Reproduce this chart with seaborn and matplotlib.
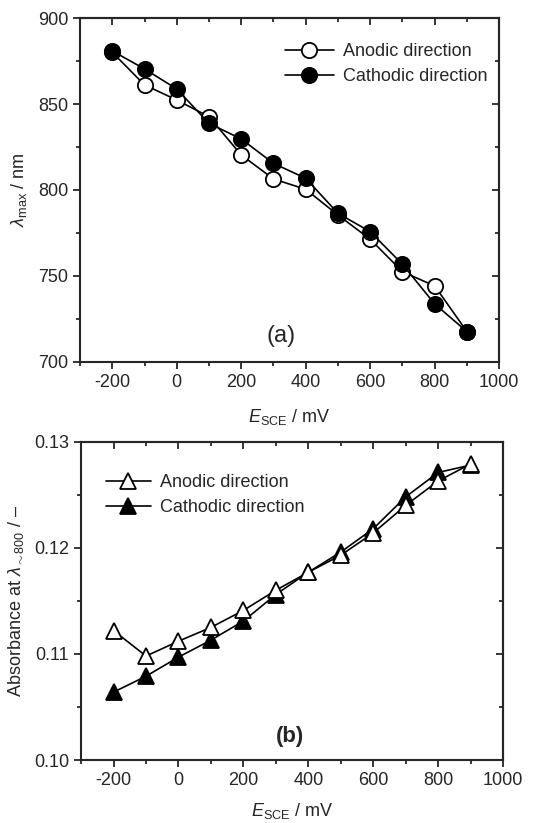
import matplotlib
matplotlib.use("Agg")
import matplotlib.pyplot as plt
from matplotlib.ticker import MultipleLocator, FormatStrFormatter
import seaborn as sns
import pandas as pd

# Potential steps (mV vs SCE)
potential = [-200, -100, 0, 100, 200, 300, 400, 500, 600, 700, 800, 900]

# (a) wavelength of maximum absorption, nm
lmax_anodic = [880.2, 861.2, 852.4, 842.7, 820.4, 806.4, 800.4, 785.4, 771.3, 752.4, 744.1, 717.5]
lmax_cathodic = [881.0, 870.5, 858.8, 838.8, 829.7, 815.5, 806.8, 786.4, 775.7, 756.7, 733.6, 717.5]

# (b) absorbance near 800 nm
abs_anodic = [0.1122, 0.1098, 0.1112, 0.1125, 0.1141, 0.1160, 0.1177, 0.1193, 0.1214, 0.1240, 0.1263, 0.1279]
abs_cathodic = [0.1064, 0.1079, 0.1097, 0.1113, 0.1131, 0.1156, 0.1177, 0.1196, 0.1218, 0.1248, 0.1271, 0.1278]

series_labels = ["Anodic direction", "Cathodic direction"]

sns.set_style("ticks")
plt.rcParams["font.family"] = ["Liberation Sans", "DejaVu Sans"]
plt.rcParams["mathtext.fontset"] = "custom"
plt.rcParams["mathtext.rm"] = "Liberation Sans"
plt.rcParams["mathtext.it"] = "Liberation Sans:italic"
plt.rcParams["mathtext.bf"] = "Liberation Sans:bold"
plt.rcParams["axes.linewidth"] = 1.5
plt.rcParams["axes.unicode_minus"] = False

fig = plt.figure(figsize=(5.48, 8.23), dpi=100)
ax1 = fig.add_axes([0.146, 0.5605, 0.765, 0.4173])
ax2 = fig.add_axes([0.148, 0.0765, 0.770, 0.3868])

df_a = pd.DataFrame({"E": potential, "an": lmax_anodic, "ca": lmax_cathodic})
df_b = pd.DataFrame({"E": potential, "an": abs_anodic, "ca": abs_cathodic})

line_kw = dict(color="black", linewidth=1.2, markeredgecolor="black",
               markeredgewidth=1.3, sort=False, estimator=None)

# Panel (a): circles
sns.lineplot(data=df_a, x="E", y="an", ax=ax1, marker="o", markersize=11,
             markerfacecolor="white", label=series_labels[0], **line_kw)
sns.lineplot(data=df_a, x="E", y="ca", ax=ax1, marker="o", markersize=11,
             markerfacecolor="black", label=series_labels[1], **line_kw)

# Panel (b): triangles
sns.lineplot(data=df_b, x="E", y="ca", ax=ax2, marker="^", markersize=12,
             markerfacecolor="black", label=series_labels[1], **line_kw)
sns.lineplot(data=df_b, x="E", y="an", ax=ax2, marker="^", markersize=12,
             markerfacecolor="white", label=series_labels[0], **line_kw)

for ax in (ax1, ax2):
    ax.set_xlim(-300, 1000)
    ax.xaxis.set_major_locator(MultipleLocator(200))
    ax.xaxis.set_minor_locator(MultipleLocator(100))
    ax.tick_params(which="both", direction="out", top=False, right=False,
                   labelsize=13, width=1.3)
    ax.tick_params(which="major", length=5)
    ax.tick_params(which="minor", length=3)
    sec_x = ax.secondary_xaxis("top")
    sec_x.xaxis.set_major_locator(MultipleLocator(200))
    sec_x.xaxis.set_minor_locator(MultipleLocator(100))
    sec_x.tick_params(which="both", direction="in", labeltop=False, width=1.3)
    sec_x.tick_params(which="major", length=5)
    sec_x.tick_params(which="minor", length=3)
    for s in ax.spines.values():
        s.set_linewidth(1.5)

ax1.set_xlabel(r"$\mathit{E}_{\mathrm{SCE}}$ / mV", fontsize=13, labelpad=12)
ax2.set_xlabel(r"$\mathit{E}_{\mathrm{SCE}}$ / mV", fontsize=13, labelpad=9)

ax1.set_ylim(700, 900)
ax1.yaxis.set_major_locator(MultipleLocator(50))
ax1.yaxis.set_minor_locator(MultipleLocator(25))
ax1.set_ylabel(r"$\lambda_{\mathrm{max}}$ / nm", fontsize=13, labelpad=6)

ax2.set_ylim(0.10, 0.13)
ax2.yaxis.set_major_locator(MultipleLocator(0.01))
ax2.yaxis.set_minor_locator(MultipleLocator(0.005))
ax2.yaxis.set_major_formatter(FormatStrFormatter("%.2f"))
ax2.set_ylabel(r"Absorbance at $\lambda_{\mathrm{\sim800}}$ / –", fontsize=13, labelpad=6)

for ax, step_major, step_minor in ((ax1, 50, 25), (ax2, 0.01, 0.005)):
    sec_y = ax.secondary_yaxis("right")
    sec_y.yaxis.set_major_locator(MultipleLocator(step_major))
    sec_y.yaxis.set_minor_locator(MultipleLocator(step_minor))
    sec_y.tick_params(which="both", direction="in", labelright=False, width=1.3)
    sec_y.tick_params(which="major", length=5)
    sec_y.tick_params(which="minor", length=3)

ax1.legend(loc="upper right", frameon=False, fontsize=13,
           handlelength=2.7, handletextpad=0.5, labelspacing=0.45,
           bbox_to_anchor=(1.01, 0.975))
h, l = ax2.get_legend_handles_labels()
ax2.legend(h[::-1], l[::-1], loc="upper left", frameon=False, fontsize=13,
           handlelength=2.5, handletextpad=0.5, labelspacing=0.45,
           bbox_to_anchor=(0.02, 0.95))

ax1.text(0.48, 0.075, "(a)", transform=ax1.transAxes, fontsize=17,
         ha="center", va="center")
ax2.text(0.495, 0.075, "(b)", transform=ax2.transAxes, fontsize=16,
         fontweight="bold", ha="center", va="center")

fig.savefig("out.png", dpi=100)
